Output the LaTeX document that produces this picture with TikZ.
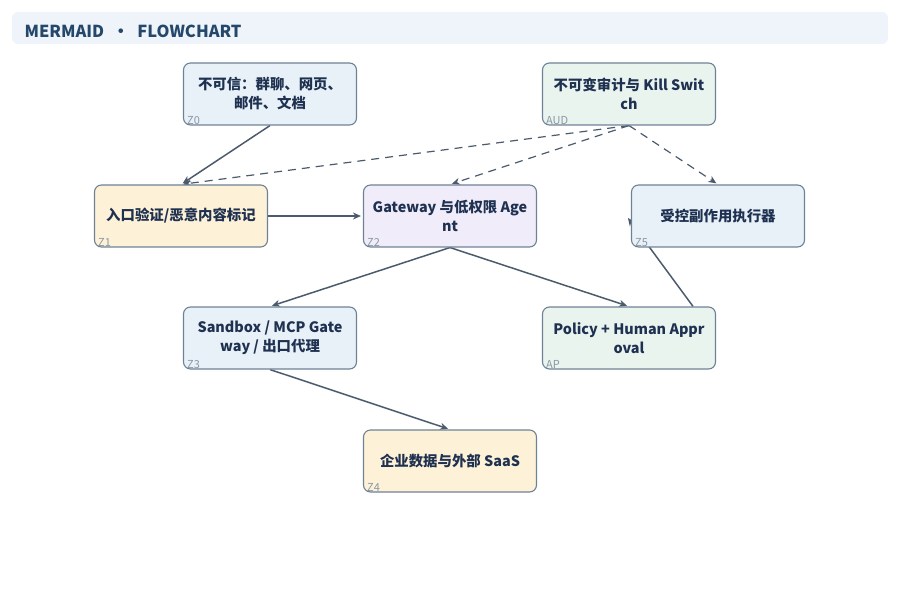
\documentclass[tikz,border=0pt]{standalone}
\usepackage{fontspec}
\setmainfont{Noto Sans CJK SC}
\usepackage{tikz}
\usetikzlibrary{positioning}
\usetikzlibrary{arrows.meta}
\usetikzlibrary{calc}
\usetikzlibrary{backgrounds}

\definecolor{headfill}{HTML}{EEF4F9}
\definecolor{headtext}{HTML}{24476B}
\definecolor{boxline}{HTML}{6E8296}
\definecolor{boxtext}{HTML}{1F3150}
\definecolor{tagtext}{HTML}{8A97A4}
\definecolor{edgecol}{HTML}{4B5B6C}
\definecolor{fillblue}{HTML}{E8F1F8}
\definecolor{fillgreen}{HTML}{EAF4EF}
\definecolor{fillcream}{HTML}{FDF2D7}
\definecolor{fillviolet}{HTML}{F1ECFA}

\begin{document}
\begin{tikzpicture}[
        x=1pt, y=-1pt,
        every node/.style = {font=\bfseries\fontsize{14.4}{19}\selectfont, text=boxtext},
        zone/.style = {
        draw=boxline, line width=1.1pt, rounded corners=7pt,
        minimum width=173pt, minimum height=62pt, align=center, inner sep=2pt
        },
        tag/.style = {font=\fontsize{11}{11}\selectfont, text=tagtext, anchor=south west, inner sep=0pt},
        flow/.style = {draw=edgecol, line width=1.5pt, -{Stealth[length=8pt,width=7pt]}, shorten >=2pt},
        audit/.style = {flow, line width=1.2pt, dash pattern=on 8pt off 6pt}
        ]
        \useasboundingbox (0,0) rectangle (900,596);

        % header
        \node[draw=none, fill=headfill, rounded corners=6pt, minimum width=876pt, minimum height=32pt] (head) at (450,28) {};
        \node[anchor=west, text=headtext, font=\bfseries\fontsize{16.5}{16.5}\selectfont] (title) at (21,31) {MERMAID \;•\; FLOWCHART};

        % zones
        \node[zone, fill=fillblue] (Z0) at (270,94) {不可信：群聊、网页、\\邮件、文档};
        \node[zone, fill=fillgreen] (AUD) at (629,94) {不可变审计与 Kill Swit\\ch};
        \node[zone, fill=fillcream] (Z1) at (181,216) {入口验证/恶意内容标记};
        \node[zone, fill=fillviolet] (Z2) at (450,216) {Gateway 与低权限 Age\\nt};
        \node[zone, fill=fillblue] (Z5) at (718,216) {受控副作用执行器};
        \node[zone, fill=fillblue] (Z3) at (270,338) {Sandbox / MCP Gate\\way / 出口代理};
        \node[zone, fill=fillgreen] (AP) at (629,338) {Policy + Human Appr\\oval};
        \node[zone, fill=fillcream] (Z4) at (450,461) {企业数据与外部 SaaS};

        \node[tag] at ($(Z0.south west)+(4,-1)$) {Z0};
        \node[tag] at ($(AUD.south west)+(4,-1)$) {AUD};
        \node[tag] at ($(Z1.south west)+(4,-1)$) {Z1};
        \node[tag] at ($(Z2.south west)+(4,-1)$) {Z2};
        \node[tag] at ($(Z5.south west)+(4,-1)$) {Z5};
        \node[tag] at ($(Z3.south west)+(4,-1)$) {Z3};
        \node[tag] at ($(AP.south west)+(4,-1)$) {AP};
        \node[tag] at ($(Z4.south west)+(4,-1)$) {Z4};

        \coordinate (z5in) at ($(Z5.west)+(-3,2)$);

        \begin{scope}[on background layer]
            \draw[flow] (Z0.south) -- (Z1.north);
            \draw[flow] (Z1.east) -- (Z2.west);
            \draw[flow] (Z2.south) -- (Z3.north);
            \draw[flow] (Z2.south) -- (AP.north);
            \draw[flow] (Z3.south) -- (Z4.north);
            \draw[flow, shorten >=0pt] ($(AP.north east)+(-23,0)$) -- (z5in);
            \draw[audit] (AUD.south) -- (Z1.north);
            \draw[audit] (AUD.south) -- (Z2.north);
            \draw[audit] (AUD.south) -- (Z5.north);
        \end{scope}
    \end{tikzpicture}
\end{document}
